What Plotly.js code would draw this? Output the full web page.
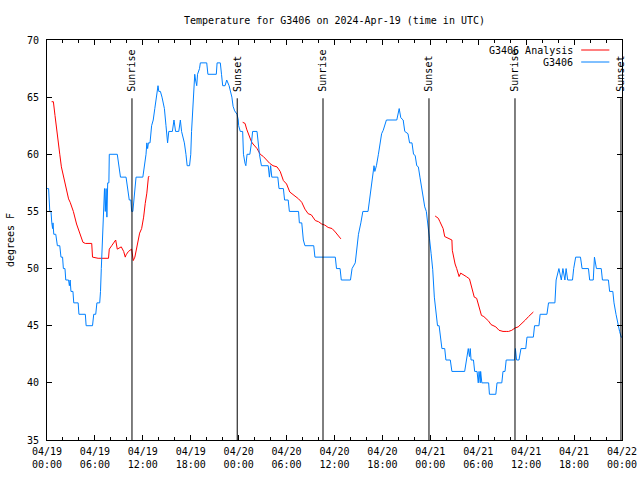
<!DOCTYPE html>
<html>
<head>
<meta charset="utf-8">
<script src="https://cdn.plot.ly/plotly-3.0.1.min.js"></script>
<style>html,body{margin:0;padding:0;background:#fff;}#chart{width:640px;height:480px;}</style>
</head>
<body>
<div id="chart"></div>
<script>
// Hours since 2024-04-19 00:00 UTC
var obsHours = [0.0,0.2,0.35,0.5,0.6,0.7,0.75,0.85,1.1,1.3,1.6,1.75,1.95,2.05,2.25,2.35,2.7,2.8,2.9,3.0,3.25,3.35,3.9,4.0,4.8,4.9,5.7,5.85,6.1,6.25,6.6,6.7,6.8,6.95,7.05,7.1,7.2,7.3,7.4,7.5,7.6,7.75,7.8,8.8,9.0,9.2,9.9,10.1,10.3,10.5,10.6,10.75,10.9,11.0,11.15,12.0,12.2,12.4,12.5,12.6,12.7,12.9,13.1,13.3,13.5,13.7,13.9,14.0,14.2,14.4,14.7,14.9,15.0,15.1,15.25,15.7,15.9,16.1,16.5,16.7,16.85,17.0,17.2,17.4,17.55,17.85,18.0,18.1,18.3,18.5,18.6,18.75,18.85,19.1,19.2,20.0,20.15,21.2,21.3,21.7,21.85,22.0,22.3,22.5,22.8,23.0,23.15,23.3,23.5,23.8,23.95,24.0,24.2,24.5,24.6,24.8,24.9,25.05,25.4,25.6,25.75,26.3,26.45,26.6,26.85,27.7,27.85,28.0,28.15,28.9,29.05,29.6,29.75,30.2,30.35,31.5,31.6,31.9,32.1,32.3,33.4,33.55,36.1,36.25,36.7,36.85,38.0,38.2,38.6,38.8,39.0,39.3,39.55,40.2,40.4,40.6,40.8,40.95,41.05,41.25,41.5,41.7,41.9,42.1,42.3,42.5,43.8,44.0,44.1,44.3,44.6,44.8,45.2,45.4,45.7,45.9,46.1,46.3,46.5,46.7,46.9,47.1,47.3,47.5,47.7,47.9,48.1,48.3,48.5,48.7,48.9,49.1,49.25,49.45,49.8,49.95,50.5,50.7,52.3,52.5,52.75,52.9,53.0,53.1,53.4,53.55,53.85,54.0,54.1,54.25,54.3,54.45,55.3,55.4,56.2,56.35,56.95,57.1,57.35,57.5,58.55,58.65,58.8,59.1,59.35,59.95,60.1,60.9,61.05,61.6,61.75,62.6,62.8,63.6,63.75,64.1,64.4,64.6,64.85,65.0,65.2,65.8,65.95,66.2,66.8,67.0,67.8,67.95,68.4,68.55,68.65,68.8,69.4,69.55,70.3,70.45,70.85,71.0,71.25,71.5,71.7,71.9,72.0];
var obsTemp = [57,57,55,55,54,53.5,54,53,53,52,52,51,51,50,50,49,49,48.5,49,48,48,47,47,46,46,45,45,46,46,47,47,48,50,53,55,55,57,55,57,54.5,57.5,57.5,60,60,59,58,58,57,56,56,55,55,56,57,58,58,59,60,61,60.5,61,61,62.5,63,64,65,66,65.5,65.5,65,64,62.5,61.5,61,62,62,63,62,62,63,62,61.5,61,60,59,59,60,62,64.5,67,66.5,66,67,67.5,68,68,67,67,68,68,67,66,66,66.5,66,65.5,65,64.2,63.8,63.5,63,62.5,62,62,60,59.2,59,60,60,61,62,62,61,60,59,59,58,59,58,58,57,57,56,56,55,55,54,54,52.5,52,52,51,51,50,50,49,49,50,50.5,52,53,54,55,55,56,57.3,58,59,58.5,59,60,61,61.8,62.1,62.5,63,63,63.7,64,63.2,63,62,61.8,61,61,60,59.9,59,58.9,58,57.1,56.2,55.4,55,54,52.6,51.3,49.9,47.5,46,45,45,44,43,43,42,42,41,41,42,43,42.3,43,42,42,41,41,40,41,40,41,40,40,39,39,40,40,41,41,42,42,43,42,42,43,43,44,44,45,45,46,46,47,47,49,50,49,50,49,50,49,49,50,51,51,50,50,49,49,51,50.5,50,50,49,49,48,48,47,46,45,44.5,44,44];

var anaHours = [0.58,0.8,1.0,1.2,1.4,1.6,1.8,2.0,2.25,2.5,2.7,2.9,3.1,3.3,3.7,4.1,4.5,4.8,5.6,5.7,6.4,7.7,7.8,8.1,8.6,8.8,9.3,9.6,9.8,9.9,10.2,10.6,10.8,11.0,11.2,11.4,11.6,11.85,12.1,12.3,12.5,12.7,12.8,
  null,
  24.5,24.8,25.0,25.2,25.4,25.6,25.8,26.3,26.7,27.1,27.5,27.9,28.3,28.8,29.0,29.2,29.6,30.0,30.4,30.6,31.1,31.5,31.9,32.3,32.7,33.1,33.6,34.0,34.4,34.8,35.2,35.7,36.1,36.5,36.8,
  null,
  48.6,48.8,49.0,49.2,49.4,49.6,49.8,50.5,50.7,50.75,50.9,51.1,51.3,51.5,51.6,51.8,52.1,52.5,52.9,53.0,53.3,53.5,53.8,54.0,54.2,54.4,54.7,55.0,55.3,55.6,55.9,56.2,56.6,57.1,57.5,57.8,58.2,58.6,59.0,59.5,59.9,60.3,60.7,60.9];
var anaTemp = [64.6,64.6,63.4,62.1,60.9,60.0,58.9,58.3,57.3,56.6,56.1,55.8,55.4,55.0,53.9,53.1,52.3,52.2,52.2,51.0,50.9,50.9,51.7,52.0,52.5,51.7,51.9,51.5,51.0,51.2,51.5,51.7,50.7,51.0,51.7,52.5,53.1,53.5,54.5,55.7,56.6,58.0,58.1,
  null,
  62.8,62.7,62.2,61.8,61.4,61.1,60.9,60.5,60.0,59.8,59.5,59.2,59.0,58.9,58.7,58.5,57.7,57.4,56.7,56.6,56.3,56.1,55.8,55.2,54.8,54.7,54.2,54.1,53.9,53.8,53.6,53.5,53.2,52.9,52.6,
  null,
  54.6,54.5,54.4,54.1,53.8,53.5,52.8,52.6,52.5,51.6,51.0,50.4,50.0,49.6,49.3,49.6,49.5,49.3,49.1,48.8,48.1,47.5,47.4,46.9,46.5,45.9,45.8,45.6,45.4,45.1,45.0,44.9,44.6,44.5,44.5,44.5,44.6,44.8,44.9,45.2,45.5,45.8,46.1,46.2];

var sunHours = [10.64, 23.82, 34.56, 47.83, 58.6, 71.87];
var sunLabels = ["Sunrise", "Sunset", "Sunrise", "Sunset", "Sunrise", "Sunset"];

var seriesNames = ["G3406 Analysis", "G3406"];
var seriesColors = ["#ff0000", "#0080ff"];

var T0 = Date.UTC(2024, 3, 19, 0, 0, 0);
function toTime(h) { return h === null ? null : T0 + h * 3600000; }

var FONT = {family: "DejaVu Sans Mono, monospace", size: 10, color: "#000"};

var traces = [
  {x: anaHours.map(toTime), y: anaTemp, type: "scatter", mode: "lines", name: seriesNames[0],
   line: {color: seriesColors[0], width: 1}, connectgaps: false, showlegend: false, hoverinfo: "x+y"},
  {x: obsHours.map(toTime), y: obsTemp, type: "scatter", mode: "lines", name: seriesNames[1],
   line: {color: seriesColors[1], width: 1}, showlegend: false, hoverinfo: "x+y"}
];

var shapes = [];
var annotations = [];
sunHours.forEach(function (h, i) {
  shapes.push({type: "line", xref: "x", yref: "y", x0: toTime(h), x1: toTime(h), y0: 35, y1: 64.9,
               line: {color: "#000", width: 1}});
  annotations.push({xref: "x", yref: "y", x: toTime(h), y: 65.3, text: sunLabels[i], textangle: -90,
                    showarrow: false, xanchor: "center", yanchor: "bottom", font: FONT});
});

// gnuplot-style key: text right-aligned, sample line to its right
seriesNames.forEach(function (n, i) {
  var yy = 0.975 - i * 0.03;
  annotations.push({xref: "paper", yref: "paper", x: 0.9185, y: yy, text: n, showarrow: false,
                    xanchor: "right", yanchor: "middle", font: FONT});
  shapes.push({type: "line", xref: "paper", yref: "paper", x0: 0.929, x1: 0.978, y0: yy, y1: yy,
               line: {color: seriesColors[i], width: 1}});
});

var layout = {
  width: 640, height: 480,
  margin: {l: 47, r: 18, t: 40, b: 40, pad: 0},
  paper_bgcolor: "#fff", plot_bgcolor: "#fff",
  font: FONT,
  showlegend: false,
  title: {text: "Temperature for G3406 on 2024-Apr-19 (time in UTC)", font: FONT,
          x: 0.5, xref: "paper", xanchor: "center", y: 0.958, yref: "container", yanchor: "middle"},
  xaxis: {
    type: "date",
    range: [toTime(0), toTime(72)],
    dtick: 6 * 3600000,
    tick0: toTime(0),
    tickformat: "%m/%d<br>%H:%M",
    ticks: "inside", ticklen: 5, tickcolor: "#000", tickwidth: 1,
    minor: {dtick: 2 * 3600000, ticks: "inside", ticklen: 3, tickcolor: "#000", showgrid: false},
    showgrid: false, zeroline: false,
    showline: true, linecolor: "#000", linewidth: 1, mirror: "ticks",
    tickfont: FONT, automargin: false, ticklabelstandoff: 2
  },
  yaxis: {
    range: [35, 70],
    dtick: 5, tick0: 35,
    ticks: "inside", ticklen: 5, tickcolor: "#000", tickwidth: 1,
    showgrid: false, zeroline: false,
    showline: true, linecolor: "#000", linewidth: 1, mirror: "ticks",
    tickfont: FONT, automargin: false, ticklabelstandoff: 5,
    title: {text: "degrees F", font: FONT, standoff: 10}
  },
  shapes: shapes,
  annotations: annotations
};

Plotly.newPlot("chart", traces, layout, {staticPlot: true, displayModeBar: false});
</script>
</body>
</html>
